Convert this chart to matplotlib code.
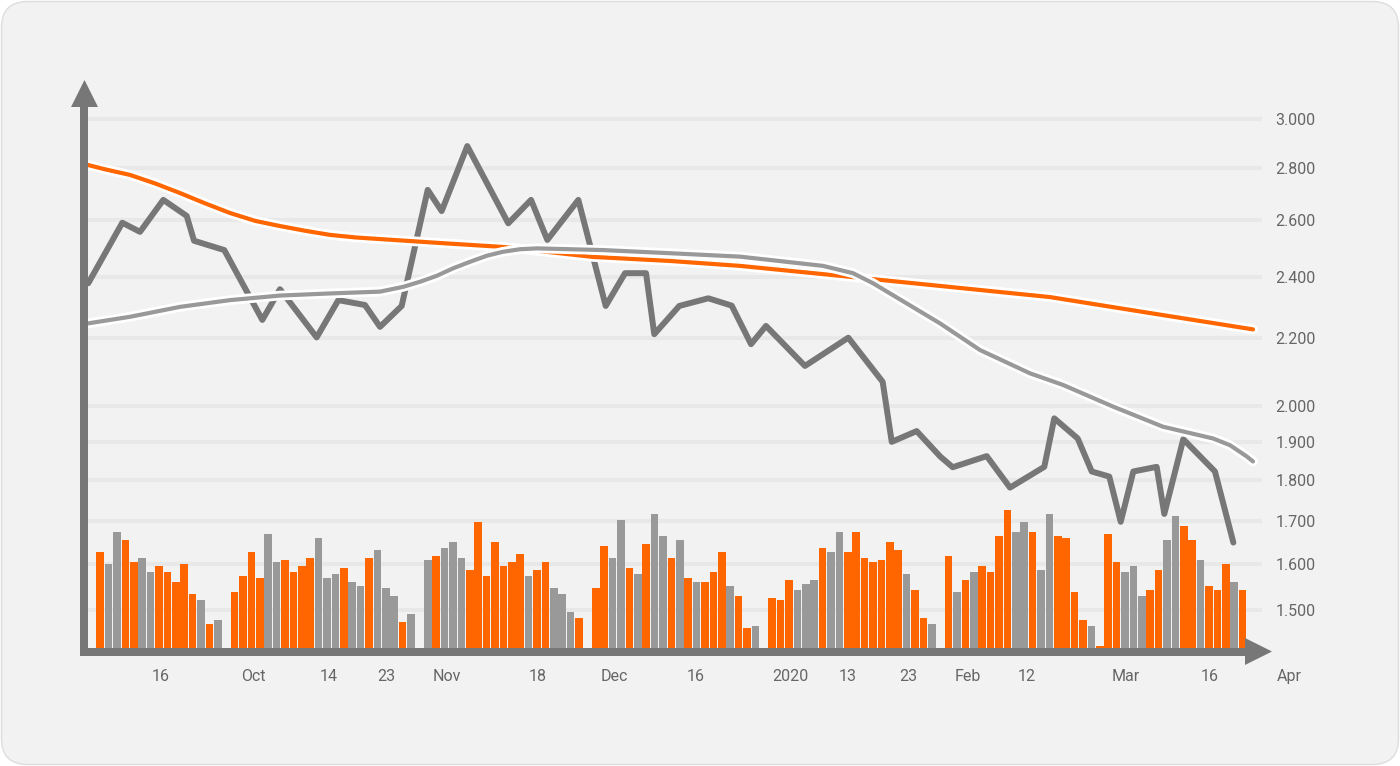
import matplotlib
matplotlib.use("Agg")
import matplotlib.pyplot as plt
import matplotlib.patheffects as pe
from matplotlib.patches import FancyBboxPatch, Polygon, Rectangle
from matplotlib.ticker import NullLocator, FixedLocator

plt.rcParams['font.family'] = ['Roboto', 'DejaVu Sans']

# ---------------- data ----------------
# volume bars per month (trading-day slots), direction O = up (orange), G = down (grey)
month_start = [0, 16, 39, 59, 80, 101, 120]
vol_sep = [9.6, 8.4, 11.6, 10.8, 8.6, 9.0, 7.6, 8.2, 7.6, 6.6, 8.4, 5.4, 4.8, 2.4, 2.8]
dir_sep = "OGGOOGGOOOOOGOG"
vol_oct = [5.6, 7.2, 9.6, 7.0, 11.4, 8.6, 8.8, 7.6, 8.2, 9.0, 11.0, 7.0, 7.4, 8.0, 6.6, 6.2,
           9.0, 9.8, 6.0, 5.2, 2.6, 3.4]
dir_oct = "OOOOGGOOOOGGGOGGOGGGOG"
vol_nov = [8.8, 9.2, 10.0, 10.6, 9.0, 7.8, 12.6, 7.2, 10.6, 8.2, 8.6, 9.4, 7.2, 7.8, 8.6, 6.0,
           5.4, 3.6, 3.0]
dir_nov = "GOGGGOOOOOOOGOOGGGO"
vol_dec = [6.0, 10.2, 9.0, 12.8, 8.0, 7.4, 10.4, 13.4, 11.2, 9.0, 10.8, 7.0, 6.6, 6.6, 7.6, 9.6,
           6.2, 5.2, 2.0, 2.2]
dir_dec = "OOGGOGOGGOGOGOOOGOOG"
vol_jan = [5.0, 4.8, 6.8, 5.8, 6.4, 6.8, 10.0, 9.6, 11.6, 9.6, 11.6, 9.0, 8.6, 8.8, 10.6, 9.8,
           7.4, 5.8, 3.0, 2.4]
dir_jan = "OOOGGGOGGOOOOOOOGOOG"
vol_feb = [9.2, 5.6, 6.8, 7.6, 8.2, 7.6, 11.2, 13.8, 11.6, 12.6, 11.6, 7.8, 13.4, 11.2, 11.0, 5.6,
           2.8, 2.2, 0.2]
dir_feb = "OGOGOOOOGGOGGOOOOGO"
vol_mar = [11.4, 8.6, 7.6, 8.2, 5.2, 5.8, 7.8, 10.8, 13.2, 12.2, 10.8, 8.8, 6.2, 5.8, 8.4, 6.6, 5.8]
dir_mar = "OOGGGOOGGOOGOOOGO"

# price line (x in trading-day slot units)
price_x = [-1.42, 2.63, 4.74, 7.51, 10.3, 11.17, 14.77, 19.3, 21.4, 25.77, 28.35, 31.52, 33.31,
           35.89, 38.99, 40.65, 43.7, 48.58, 51.29, 53.23, 56.92, 60.18, 62.48, 64.98, 65.96,
           68.94, 72.39, 75.18, 77.48, 79.26, 83.9, 89.06, 93.15, 94.23, 97.2, 100.0, 101.49,
           105.54, 108.31, 112.39, 113.58, 116.37, 118.04, 120.13, 121.49, 122.99, 125.77,
           126.68, 128.94, 132.71, 134.9]
price_y = [2.378, 2.590, 2.557, 2.675, 2.615, 2.525, 2.492, 2.258, 2.358, 2.203, 2.322, 2.306,
           2.236, 2.303, 2.713, 2.633, 2.886, 2.588, 2.675, 2.528, 2.675, 2.303, 2.412, 2.412,
           2.213, 2.303, 2.328, 2.304, 2.182, 2.239, 2.116, 2.202, 2.069, 1.901, 1.930, 1.862,
           1.834, 1.863, 1.782, 1.835, 1.965, 1.910, 1.823, 1.810, 1.698, 1.823, 1.835, 1.717,
           1.908, 1.823, 1.649]

# long moving average (orange)
ma_long_x = [-1.45, 0.57, 3.55, 6.52, 9.5, 12.48, 15.45, 18.43, 21.4, 24.38, 27.36, 30.33, 33.31,
             40.45, 47.95, 58.67, 67.83, 76.17, 89.5, 99.98, 113.07, 124.98, 137.24]
ma_long_y = [2.810, 2.793, 2.771, 2.738, 2.701, 2.662, 2.626, 2.597, 2.578, 2.561, 2.546, 2.537,
             2.531, 2.517, 2.503, 2.468, 2.454, 2.437, 2.399, 2.369, 2.332, 2.280, 2.228]

# short moving average (grey)
ma_short_x = [-1.45, 3.55, 9.5, 15.45, 21.4, 27.36, 33.31, 36.08, 38.07, 40.06, 42.04, 44.02,
              46.01, 47.95, 49.98, 52.0, 59.86, 67.83, 76.17, 86.05, 89.62, 92.0, 99.98, 104.74,
              110.69, 114.62, 120.57, 126.52, 132.48, 134.5, 136.5, 137.24]
ma_short_y = [2.247, 2.268, 2.300, 2.322, 2.337, 2.344, 2.350, 2.366, 2.383, 2.403, 2.429, 2.451,
              2.472, 2.486, 2.495, 2.498, 2.492, 2.481, 2.469, 2.437, 2.412, 2.378, 2.247, 2.164,
              2.094, 2.060, 1.998, 1.942, 1.910, 1.892, 1.862, 1.849]

y_ticks = [1.5, 1.6, 1.7, 1.8, 1.9, 2.0, 2.2, 2.4, 2.6, 2.8, 3.0]
x_tick_pos = [7.24, 18.2, 27.24, 34.1, 41.3, 52.1, 61.2, 70.9, 82.2, 89.0, 96.2, 103.3, 110.3,
              122.1, 132.1, 141.6]
x_tick_labels = ['16', 'Oct', '14', '23', 'Nov', '18', 'Dec', '16', '2020', '13', '23', 'Feb',
                 '12', 'Mar', '16', 'Apr']

# ---------------- styling ----------------
ORANGE = '#FF6600'
GREY_BAR = '#999999'
GREY_LINE = '#777777'
AXIS = '#777777'
TXT = '#666666'
GRID = '#E8E8E8'

W, H = 1400, 766
fig = plt.figure(figsize=(W / 100, H / 100), dpi=100)
fig.patch.set_facecolor('white')

bg = fig.add_axes([0, 0, 1, 1], zorder=0)
bg.set_xlim(0, W)
bg.set_ylim(H, 0)
bg.axis('off')
bg.add_patch(FancyBboxPatch((1.5, 1.5), W - 3, H - 3,
                            boxstyle="round,pad=0,rounding_size=26",
                            fc='#F2F2F2', ec='#DDDDDD', lw=1))

L, R, T, B = 84, 1262, 100, 648
pos = [L / W, 1 - B / H, (R - L) / W, (B - T) / H]
xlim = ((L - 100.2) / 8.4, (R - 100.2) / 8.4)
ylim = (1.4209, 3.0801)

ax = fig.add_axes(pos, zorder=1)
axv = fig.add_axes(pos, zorder=2, sharex=ax)
axl = fig.add_axes(pos, zorder=3, sharex=ax)

for a in (ax, axv, axl):
    a.patch.set_alpha(0)
    for s in a.spines.values():
        s.set_visible(False)

# grid axes (log price scale)
ax.set_yscale('log')
ax.set_ylim(*ylim)
ax.set_xlim(*xlim)
ax.yaxis.set_major_locator(FixedLocator(y_ticks))
ax.yaxis.set_minor_locator(NullLocator())
ax.set_yticklabels([f"{v:.3f}" for v in y_ticks])
ax.yaxis.tick_right()
ax.tick_params(axis='y', length=0, pad=9.5, labelsize=11.5, labelcolor=TXT)
ax.grid(axis='y', color=GRID, lw=3)
ax.set_xticks([])

for xp, lab in zip(x_tick_pos, x_tick_labels):
    ax.annotate(lab, xy=(xp, 0), xycoords=('data', 'axes fraction'),
                xytext=(0, -21), textcoords='offset pixels',
                ha='center', va='top', fontsize=11.5, color=TXT, annotation_clip=False)

# volume bars
months = [(vol_sep, dir_sep), (vol_oct, dir_oct), (vol_nov, dir_nov), (vol_dec, dir_dec),
          (vol_jan, dir_jan), (vol_feb, dir_feb), (vol_mar, dir_mar)]
bx, bh, bc = [], [], []
for start, (vols, dirs) in zip(month_start, months):
    for i, (v, d) in enumerate(zip(vols, dirs)):
        bx.append(start + i)
        bh.append(v)
        bc.append(ORANGE if d == 'O' else GREY_BAR)
axv.bar(bx, bh, width=0.92, color=bc, linewidth=0)
axv.set_ylim(0, (B - T) / 10)
axv.axis('off')

# lines
axl.set_yscale('log')
axl.set_ylim(*ylim)
axl.axis('off')
axl.plot(price_x, price_y, color=GREY_LINE, lw=4.3, solid_joinstyle='round',
         solid_capstyle='round', zorder=2)
axl.plot(ma_long_x, ma_long_y, color=ORANGE, lw=3.0, solid_capstyle='round',
         solid_joinstyle='round',
         path_effects=[pe.Stroke(linewidth=7.0, foreground='white'), pe.Normal()], zorder=3)
axl.plot(ma_short_x, ma_short_y, color=GREY_BAR, lw=3.0, solid_capstyle='round',
         solid_joinstyle='round',
         path_effects=[pe.Stroke(linewidth=7.0, foreground='white'), pe.Normal()], zorder=4)
axl.set_xlim(*xlim)

# axis arrows
top = fig.add_axes([0, 0, 1, 1], zorder=5)
top.set_xlim(0, W)
top.set_ylim(H, 0)
top.axis('off')
top.patch.set_alpha(0)
top.add_patch(Rectangle((80, 106), 8, 550, fc=AXIS, ec='none'))
top.add_patch(Polygon([(71, 107), (98, 107), (84.5, 80)], closed=True, fc=AXIS, ec='none'))
top.add_patch(Rectangle((80, 648), 1166, 8, fc=AXIS, ec='none'))
top.add_patch(Polygon([(1245, 638), (1245, 665), (1272, 651.5)], closed=True, fc=AXIS, ec='none'))

fig.savefig('out.png', dpi=100, facecolor=fig.get_facecolor())
